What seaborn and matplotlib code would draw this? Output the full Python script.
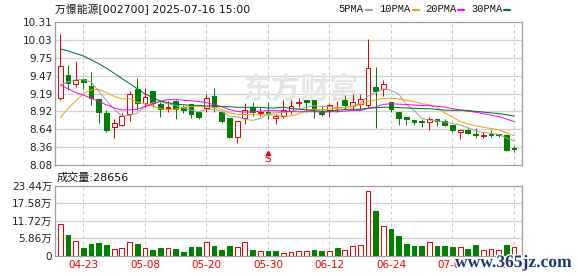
import matplotlib
matplotlib.use("Agg")
import matplotlib.pyplot as plt
import matplotlib.transforms as mtransforms
import matplotlib.patheffects as pe
from matplotlib.lines import Line2D
import numpy as np
import pandas as pd
import seaborn as sns

# ---------------- data ----------------
title = "万憬能源[002700] 2025-07-16 15:00"
dates = ["04-18", "04-21", "04-22", "04-23", "04-24", "04-25", "04-28", "04-29", "04-30",
         "05-06", "05-07", "05-08", "05-09", "05-12", "05-13", "05-14", "05-15", "05-16",
         "05-19", "05-20", "05-21", "05-22", "05-23", "05-26", "05-27", "05-28", "05-29",
         "05-30", "06-03", "06-04", "06-05", "06-06", "06-09", "06-10", "06-11", "06-12",
         "06-13", "06-16", "06-17", "06-18", "06-19", "06-20", "06-23", "06-24", "06-25",
         "06-26", "06-27", "06-30", "07-01", "07-02", "07-03", "07-04", "07-07", "07-08",
         "07-09", "07-10", "07-11", "07-14", "07-15", "07-16"]
open_ = [9.12, 9.49, 9.35, 9.42, 9.31, 9.11, 8.89, 8.67, 8.70, 8.88,
         9.26, 9.04, 9.23, 9.03, 8.97, 9.08, 8.99, 9.03, 8.90, 8.97,
         9.15, 8.90, 8.81, 8.51, 8.81, 8.99, 8.89, 8.90, 8.81, 8.85,
         8.92, 9.05, 9.09, 9.09, 8.90, 8.94, 8.98, 9.09, 9.00, 9.03,
         9.02, 9.30, 9.27, 9.06, 8.90, 8.83, 8.78, 8.77, 8.75, 8.79,
         8.76, 8.71, 8.60, 8.62, 8.57, 8.54, 8.56, 8.56, 8.55, 8.34]
high = [10.13, 9.64, 9.70, 9.43, 9.53, 9.11, 8.94, 8.79, 8.89, 9.23,
        9.44, 9.28, 9.24, 9.06, 9.08, 9.09, 9.02, 9.03, 8.90, 9.19,
        9.28, 8.91, 8.81, 8.77, 9.05, 9.07, 8.99, 9.06, 8.88, 9.10,
        9.10, 9.13, 9.10, 9.10, 9.00, 9.04, 9.08, 9.17, 9.18, 9.18,
        10.05, 9.61, 9.41, 9.06, 8.90, 8.83, 8.78, 8.79, 8.83, 8.79,
        8.79, 8.71, 8.63, 8.65, 8.65, 8.59, 8.62, 8.56, 8.57, 8.37]
low = [9.09, 9.25, 9.30, 9.27, 9.01, 8.74, 8.59, 8.50, 8.69, 8.77,
       8.93, 8.99, 8.99, 8.83, 8.91, 8.79, 8.89, 8.81, 8.79, 8.90,
       8.91, 8.74, 8.50, 8.43, 8.72, 8.84, 8.84, 8.80, 8.72, 8.82,
       8.87, 8.99, 8.91, 8.82, 8.84, 8.83, 8.91, 8.96, 8.94, 8.96,
       8.99, 8.66, 9.15, 8.90, 8.71, 8.71, 8.71, 8.68, 8.62, 8.69,
       8.69, 8.60, 8.48, 8.56, 8.50, 8.50, 8.52, 8.51, 8.30, 8.28]
close = [9.62, 9.36, 9.40, 9.38, 9.12, 8.90, 8.62, 8.73, 8.85, 9.18,
         9.05, 9.14, 9.04, 8.95, 8.98, 8.95, 8.93, 8.87, 8.83, 9.13,
         8.99, 8.76, 8.51, 8.77, 8.94, 8.90, 8.91, 8.88, 8.85, 8.94,
         9.00, 9.06, 9.07, 8.95, 8.88, 9.01, 8.99, 9.02, 9.06, 9.11,
         9.60, 9.23, 9.34, 8.95, 8.82, 8.79, 8.75, 8.745, 8.79, 8.77,
         8.70, 8.625, 8.63, 8.58, 8.55, 8.55, 8.55, 8.55, 8.31, 8.33]
volume_wan = [10.5, 6.9, 4.85, 2.6, 3.8, 4.2, 3.5, 2.1, 2.5, 4.7,
              3.8, 2.5, 1.8, 2.5, 2.5, 2.1, 1.1, 2.7, 2.7, 4.7,
              3.2, 1.8, 3.2, 2.7, 4.7, 1.8, 1.6, 1.5, 1.4, 1.0,
              1.2, 1.6, 1.6, 1.7, 1.35, 1.6, 2.5, 2.0, 3.3, 3.7,
              21.8, 15.0, 9.8, 8.9, 6.5, 3.8, 3.2, 3.2, 4.4, 3.2,
              3.2, 2.8, 2.7, 2.1, 3.5, 1.8, 2.1, 1.8, 3.5, 2.8656]
# moving-average values at the start of the window (their history lies before the chart)
ma5_head = [9.33, 9.38, 9.41, 9.41]
ma10_head = [8.82, 8.96, 9.08, 9.19, 9.25, 9.26, 9.21, 9.15, 9.11]
ma20_head = [9.33, 9.27, 9.21, 9.17, 9.12, 9.07, 9.02, 8.97, 8.94, 8.94,
             8.95, 8.99, 9.03, 9.07, 9.10, 9.10, 9.09, 9.08, 9.07]
ma30_head = [9.89, 9.86, 9.82, 9.78, 9.72, 9.66, 9.59, 9.51, 9.43, 9.35,
             9.27, 9.19, 9.13, 9.08, 9.05, 9.03, 9.02, 9.01, 9.01, 9.00,
             9.00, 8.99, 8.99, 8.98, 8.98, 8.98, 8.98, 8.97, 8.97]
price_ticks = [8.08, 8.36, 8.64, 8.92, 9.19, 9.47, 9.75, 10.03, 10.31]
vol_ticks = [0, 5.86, 11.72, 17.58, 23.44]
date_ticks = ["04-23", "05-08", "05-20", "05-30", "06-12", "06-24", "07-04", "07-16"]
signal_dates = ["05-30"]
signal_text = ["S"]
ma_names = ["5PMA", "10PMA", "20PMA", "30PMA"]

# ---------------- style ----------------
sns.set_theme(style="white")
plt.rcParams["font.family"] = ["DejaVu Sans", "Noto Sans CJK SC"]
plt.rcParams["axes.unicode_minus"] = False

RED = "#ee0000"
GREEN = "#008000"
MA_COLORS = ["#a0a0a0", "#f5a300", "#ff00ff", "#006e30"]
GRID = "#d2d2d2"
SPINE = "#a0a0a0"
PX = 0.72  # one pixel in points

W, H = 578, 276
fig = plt.figure(figsize=(W / 100, H / 100), dpi=100)
fig.patch.set_facecolor("white")
axp = fig.add_axes([55 / W, 1 - 165 / H, 467 / W, 143 / H])
axv = fig.add_axes([55 / W, 1 - 255.5 / H, 467 / W, 69.5 / H])

df = pd.DataFrame({"date": dates, "open": open_, "high": high, "low": low,
                   "close": close, "vol": volume_wan})
df["x"] = np.arange(len(df))
xpos = {d: i for i, d in enumerate(dates)}


def moving_avg(win, head):
    m = df["close"].rolling(win).mean().to_numpy()
    m[:len(head)] = head
    return m


df["ma5"] = moving_avg(5, ma5_head)
df["ma10"] = moving_avg(10, ma10_head)
df["ma20"] = moving_avg(20, ma20_head)
df["ma30"] = moving_avg(30, ma30_head)

xlim = (-0.69, 60.04)
tick_x = [xpos[d] for d in date_ticks]

for ax in (axp, axv):
    ax.set_facecolor("white")
    ax.set_xlim(*xlim)
    for s in ax.spines.values():
        s.set_visible(True)
        s.set_color(SPINE)
        s.set_linewidth(1.3 * PX)
    ax.tick_params(length=0)
    for tx in tick_x:
        ax.axvline(tx, color="#c8c8c8", lw=1.0 * PX, ls=(0, (3, 3)), zorder=0.6)

# ---------------- price panel ----------------
axp.set_ylim(price_ticks[0], price_ticks[-1])
axp.set_yticks(price_ticks)
axp.set_yticklabels([f"{t:.2f}" for t in price_ticks], fontsize=7.5, color="#222222")
axp.tick_params(axis="y", pad=2)
axp.set_xticks([])
for t in price_ticks[1:-1]:
    axp.axhline(t, color=GRID, lw=1.3 * PX, zorder=0.5)

# watermark
axp.text(301 / W, 1 - 89 / H, "东方财富", transform=fig.transFigure, fontsize=21,
         family=["Noto Sans CJK SC"], fontweight="bold", color="#e4e4e4",
         ha="center", va="center", zorder=0.7, style="italic")

up = df["close"] >= df["open"]
ccol = np.where(up, RED, GREEN)
axp.vlines(df["x"], df["low"], df["high"], colors=ccol, lw=1.0 * PX, zorder=2)
body = np.maximum((df["close"] - df["open"]).abs(), 0.004)
axp.bar(df["x"], body, bottom=np.minimum(df["open"], df["close"]), width=0.62,
        color=np.where(up, "white", GREEN), edgecolor=ccol, linewidth=1.0 * PX, zorder=3)

for name, col in zip(["ma5", "ma10", "ma20", "ma30"], MA_COLORS):
    sns.lineplot(data=df, x="x", y=name, ax=axp, color=col, lw=1.0 * PX,
                 errorbar=None, legend=False, zorder=4)
axp.set_xlabel("")
axp.set_ylabel("")
axp.set_xlim(*xlim)

# buy/sell signal marker
trans = mtransforms.blended_transform_factory(axp.transData, axp.transAxes)
for d, s in zip(signal_dates, signal_text):
    axp.text(xpos[d], 0.045, s, transform=trans, color=RED, fontsize=7.5,
             ha="center", va="center", zorder=5)
    axp.plot([xpos[d]], [0.085], transform=trans, marker="^", ms=3, color=RED,
             clip_on=False, zorder=5)

# ---------------- volume panel ----------------
vol_up = np.r_[df["close"].iloc[0] >= df["open"].iloc[0],
               df["close"].to_numpy()[1:] >= df["close"].to_numpy()[:-1]]
vcol = np.where(vol_up, RED, GREEN)
axv.bar(df["x"], df["vol"], width=0.62, color=np.where(vol_up, "white", GREEN),
        edgecolor=vcol, linewidth=1.0 * PX, zorder=3)
axv.set_ylim(vol_ticks[0], vol_ticks[-1])
axv.set_yticks(vol_ticks)
axv.set_yticklabels(["0"] + [f"{t:.2f}万" for t in vol_ticks[1:]], fontsize=7.5,
                    color="#222222")
axv.tick_params(axis="y", pad=2)
for t in vol_ticks[1:-1]:
    axv.axhline(t, color=GRID, lw=1.3 * PX, zorder=0.5)
axv.set_xticks(tick_x)
axv.set_xticklabels(date_ticks, fontsize=7.5, color=RED)
axv.tick_params(axis="x", pad=3)

# ---------------- texts ----------------
fig.text(55 / W, 1 - 9 / H, title, fontsize=7.8, color="#111111", ha="left", va="center")
fig.text(57 / W, 1 - 178 / H, f"成交量:{int(round(volume_wan[-1] * 1e4))}",
         fontsize=8, color="#111111", ha="left", va="center")

legend_x = [338.7, 379.7, 425.3, 471.3]
for lx, name, col in zip(legend_x, ma_names, MA_COLORS):
    t = fig.text(lx / W, 1 - 9 / H, name, fontsize=7.5, family=["Liberation Mono"],
                 color="#111111", ha="left", va="center")
    tw = 6.2 * len(name)
    fig.add_artist(Line2D([(lx + tw + 2) / W, (lx + tw + 8) / W], [1 - 10 / H, 1 - 10 / H],
                          transform=fig.transFigure, color=col, lw=2.2 * PX))

fig.text(455 / W, 1 - 263 / H, "www.365jz.com", fontsize=12.6, family=["Liberation Serif"],
         color="#1b3a75", ha="left", va="center", fontweight="bold",
         path_effects=[pe.withStroke(linewidth=2, foreground="white")])

fig.savefig("out.png", dpi=100, facecolor="white")
